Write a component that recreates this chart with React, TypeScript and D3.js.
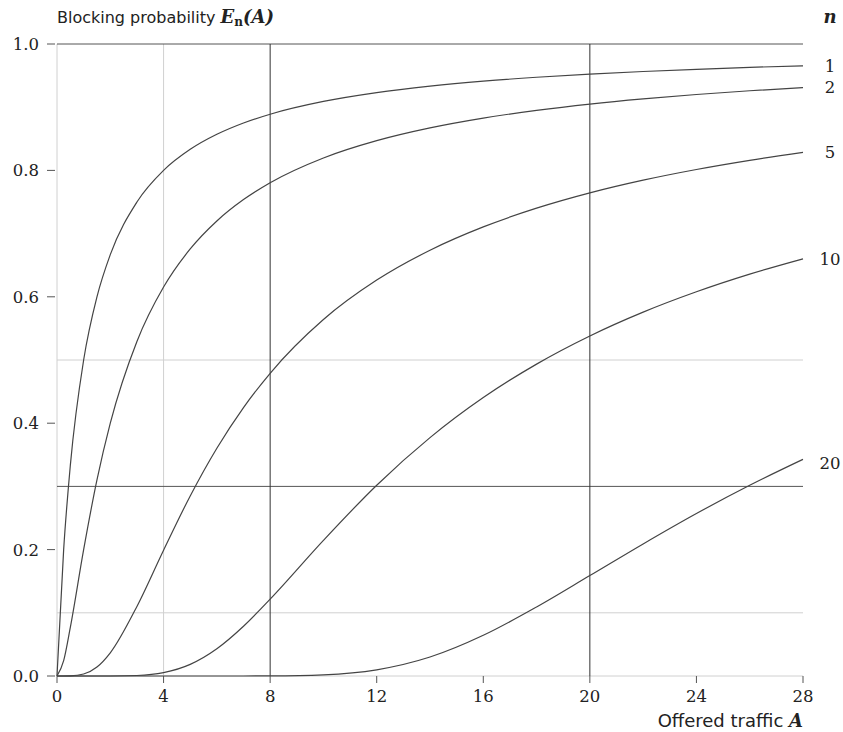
import React from "react";
import * as d3 from "d3";

const width = 843, height = 732;
const margin = { left: 57, right: 40, top: 44, bottom: 56 };

// offered traffic A (x)
const traffic = [0, 0.25, 0.5, 1, 1.5, 2, 3, 4, 5, 6, 7, 8, 10, 12, 14, 16, 18, 20, 22, 24, 26, 28];

const n1 = [0, 0.2, 0.3333, 0.5, 0.6, 0.6667, 0.75, 0.8, 0.8333, 0.8571, 0.875, 0.8889, 0.9091, 0.9231, 0.9333, 0.9412, 0.9474, 0.9524, 0.9565, 0.96, 0.963, 0.9655];
const n2 = [0, 0.0244, 0.0769, 0.2, 0.3103, 0.4, 0.5294, 0.6154, 0.6757, 0.72, 0.7538, 0.7805, 0.8197, 0.8471, 0.8673, 0.8828, 0.895, 0.905, 0.9132, 0.9201, 0.926, 0.9311];
const n5 = [0, 0.0000064, 0.000158, 0.0031, 0.0142, 0.0367, 0.1101, 0.1991, 0.2849, 0.3604, 0.4247, 0.479, 0.564, 0.6264, 0.6737, 0.7106, 0.7402, 0.7644, 0.7845, 0.8014, 0.8159, 0.8285];
const n10 = [0, 0, 0, 0, 0.0000036, 0.0000382, 0.0008, 0.0053, 0.0184, 0.0431, 0.0787, 0.1216, 0.2146, 0.3019, 0.3772, 0.4406, 0.4935, 0.538, 0.5757, 0.6079, 0.6358, 0.66];
const n20 = [0, 0, 0, 0, 0, 0, 0, 0, 0, 0, 0.00003, 0.00016, 0.0019, 0.0098, 0.03, 0.0644, 0.1092, 0.1589, 0.209, 0.2571, 0.3018, 0.3428];

const seriesNames = ["1", "2", "5", "10", "20"];
const seriesValues = [n1, n2, n5, n10, n20];
// where the n labels sit on the right edge (probability units)
const labelLevels = [0.965, 0.932, 0.829, 0.66, 0.337];

const xTicks = [0, 4, 8, 12, 16, 20, 24, 28];
const yTicks = [0, 0.2, 0.4, 0.6, 0.8, 1.0];
const lightX = [0, 4];
const darkX = [8, 20];
const lightY = [0, 0.1, 0.5];
const darkY = [0.3, 1.0];

const App = () => {
  const x = d3.scaleLinear().domain([0, 28]).range([margin.left, width - margin.right]);
  const y = d3.scaleLinear().domain([0, 1]).range([height - margin.bottom, margin.top]);

  const line = d3.line<number>()
    .x((_, i) => x(traffic[i]))
    .y(d => y(d))
    .curve(d3.curveMonotoneX);

  const [x0, x1] = x.range();
  const [y0, y1] = y.range();
  const serif = "'DejaVu Serif', 'Liberation Serif', serif";
  const sans = "'DejaVu Sans', sans-serif";

  return <svg width={width} height={height} style={{ position: "absolute", left: 0, top: 0, background: "#fff" }}>
    {lightX.map(v => <line key={"lx" + v} x1={x(v)} x2={x(v)} y1={y0} y2={y1} stroke="#d0d0d0" />)}
    {lightY.map(v => <line key={"ly" + v} x1={x0} x2={x1} y1={y(v)} y2={y(v)} stroke="#d0d0d0" />)}
    {darkY.map(v => <line key={"dy" + v} x1={x0} x2={x1} y1={y(v)} y2={y(v)} stroke="#555" />)}
    {darkX.map(v => <line key={"dx" + v} x1={x(v)} x2={x(v)} y1={y0} y2={y1} stroke="#333" />)}

    {yTicks.map(v => <g key={"yt" + v}>
      <line x1={x0 - 10} x2={x0 - 2} y1={y(v)} y2={y(v)} stroke="#555" />
      <text x={x0 - 18} y={y(v)} dy="0.36em" textAnchor="end" fontFamily={serif} fontSize={16.5} fill="#222">{v.toFixed(1)}</text>
    </g>)}
    {xTicks.map(v => <g key={"xt" + v}>
      <line x1={x(v)} x2={x(v)} y1={y0} y2={y0 + 7} stroke="#555" />
      <text x={x(v)} y={y0 + 26} textAnchor="middle" fontFamily={serif} fontSize={16.5} fill="#222">{v}</text>
    </g>)}

    {seriesValues.map((vals, i) => <path key={seriesNames[i]} d={line(vals) || ""} fill="none" stroke="#444" strokeWidth={1.2} />)}
    {seriesNames.map((name, i) => <text key={"lab" + name} x={830} y={y(labelLevels[i])} dy="0.36em" textAnchor="middle" fontFamily={serif} fontSize={16.5} fill="#222">{name}</text>)}

    <text x={830} y={23} textAnchor="middle" fontFamily={serif} fontSize={18} fontWeight="bold" fontStyle="italic" fill="#222">n</text>
    <text x={57} y={23} fontFamily={sans} fontSize={16} fill="#222">
      Blocking probability <tspan fontFamily={serif} fontWeight="bold" fontStyle="italic" fontSize={18}>E</tspan>
      <tspan fontFamily={serif} fontWeight="bold" fontSize={12} dy={3}>n</tspan>
      <tspan fontFamily={serif} fontWeight="bold" fontStyle="italic" fontSize={18} dy={-3}>(A)</tspan>
    </text>
    <text x={803} y={727} textAnchor="end" fontFamily={sans} fontSize={18} fill="#222">
      Offered traffic <tspan fontFamily={serif} fontWeight="bold" fontStyle="italic" fontSize={18}>A</tspan>
    </text>
  </svg>;
};

export default App;
